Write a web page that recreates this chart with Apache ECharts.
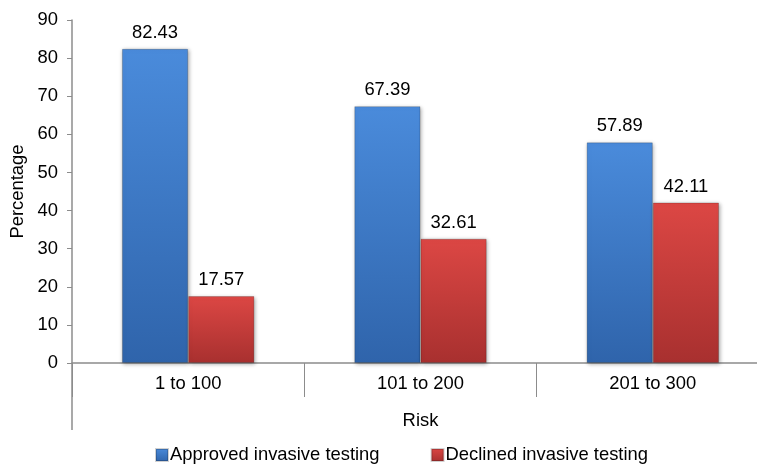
<!DOCTYPE html>
<html>
<head>
<meta charset="utf-8">
<script src="https://cdn.jsdelivr.net/npm/echarts@6/dist/echarts.min.js"></script>
<style>
  html, body { margin: 0; padding: 0; background: #fff; }
  #chart { width: 757px; height: 464px; }
</style>
</head>
<body>
<div id="chart"></div>
<script>
// Risk groups on the x axis
const categories = ['1 to 100', '101 to 200', '201 to 300'];
// Share of patients (%) in each risk group
const approved = [82.43, 67.39, 57.89];
const declined = [17.57, 32.61, 42.11];
const seriesNames = ['Approved invasive testing', 'Declined invasive testing'];
const yTicks = { min: 0, max: 90, interval: 10 };

const FONT = 'Liberation Sans, Arial, Helvetica, sans-serif';
const FS = 18.4;
const axisGrey = '#8c8c8c';
const GRID_LEFT = 72;

function grad(top, bottom) {
  return new echarts.graphic.LinearGradient(0, 0, 0, 1, [
    { offset: 0, color: top },
    { offset: 1, color: bottom }
  ]);
}
const blueFill = grad('#4a8bdb', '#2f64ab');
const redFill = grad('#dc4744', '#a8302f');

const chart = echarts.init(document.getElementById('chart'), null, { renderer: 'canvas' });

function barSeries(name, data, fill) {
  return {
    name: name,
    type: 'bar',
    data: data,
    barGap: '0%',
    barCategoryGap: '43%',
    itemStyle: {
      color: fill,
      borderColor: 'rgba(0,0,0,0.18)',
      borderWidth: 1,
      shadowBlur: 4,
      shadowColor: 'rgba(0,0,0,0.35)',
      shadowOffsetX: 1,
      shadowOffsetY: 1
    },
    label: {
      show: true,
      position: 'top',
      distance: 7,
      color: '#000',
      fontFamily: FONT,
      fontSize: FS,
      formatter: p => p.value.toFixed(2)
    }
  };
}

chart.setOption({
  animation: false,
  backgroundColor: '#fff',
  textStyle: { fontFamily: FONT },
  grid: {
    left: GRID_LEFT, right: -12, top: 20, bottom: 101,
    containLabel: false,
    outerBoundsMode: 'none'
  },
  legend: {
    top: 446,
    left: 155,
    padding: 0,
    itemWidth: 12,
    itemHeight: 12,
    itemGap: 51,
    textStyle: { fontFamily: FONT, fontSize: FS, color: '#000', padding: [0, 0, 0, -3] },
    data: [
      { name: seriesNames[0], icon: 'rect', itemStyle: { color: blueFill } },
      { name: seriesNames[1], icon: 'rect', itemStyle: { color: redFill } }
    ]
  },
  xAxis: {
    type: 'category',
    data: categories,
    name: 'Risk',
    nameLocation: 'middle',
    nameGap: 49,
    nameTextStyle: { fontFamily: FONT, fontSize: FS, color: '#000' },
    axisLine: { lineStyle: { color: axisGrey, width: 1.5 } },
    axisTick: { show: true, interval: 0, length: 34, lineStyle: { color: axisGrey, width: 1 } },
    axisLabel: { margin: 12, fontFamily: FONT, fontSize: FS, color: '#000' }
  },
  yAxis: {
    type: 'value',
    min: yTicks.min,
    max: yTicks.max,
    interval: yTicks.interval,
    name: 'Percentage',
    nameLocation: 'middle',
    nameGap: 37,
    nameTextStyle: { fontFamily: FONT, fontSize: FS, color: '#000' },
    axisLine: { show: true, lineStyle: { color: axisGrey, width: 1.5 } },
    axisTick: { show: true, length: 5, lineStyle: { color: axisGrey, width: 1 } },
    axisLabel: { margin: 14, fontFamily: FONT, fontSize: FS, color: '#000' },
    splitLine: { show: false }
  },
  series: [
    barSeries(seriesNames[0], approved, blueFill),
    barSeries(seriesNames[1], declined, redFill)
  ]
});

// Extend the value axis line below the baseline, down through the category band
const baseY = chart.convertToPixel({ yAxisIndex: 0 }, 0);
chart.setOption({
  graphic: [{
    type: 'line',
    shape: { x1: GRID_LEFT, y1: baseY, x2: GRID_LEFT, y2: baseY + 67 },
    style: { stroke: axisGrey, lineWidth: 1.5 },
    silent: true
  }]
});
</script>
</body>
</html>
